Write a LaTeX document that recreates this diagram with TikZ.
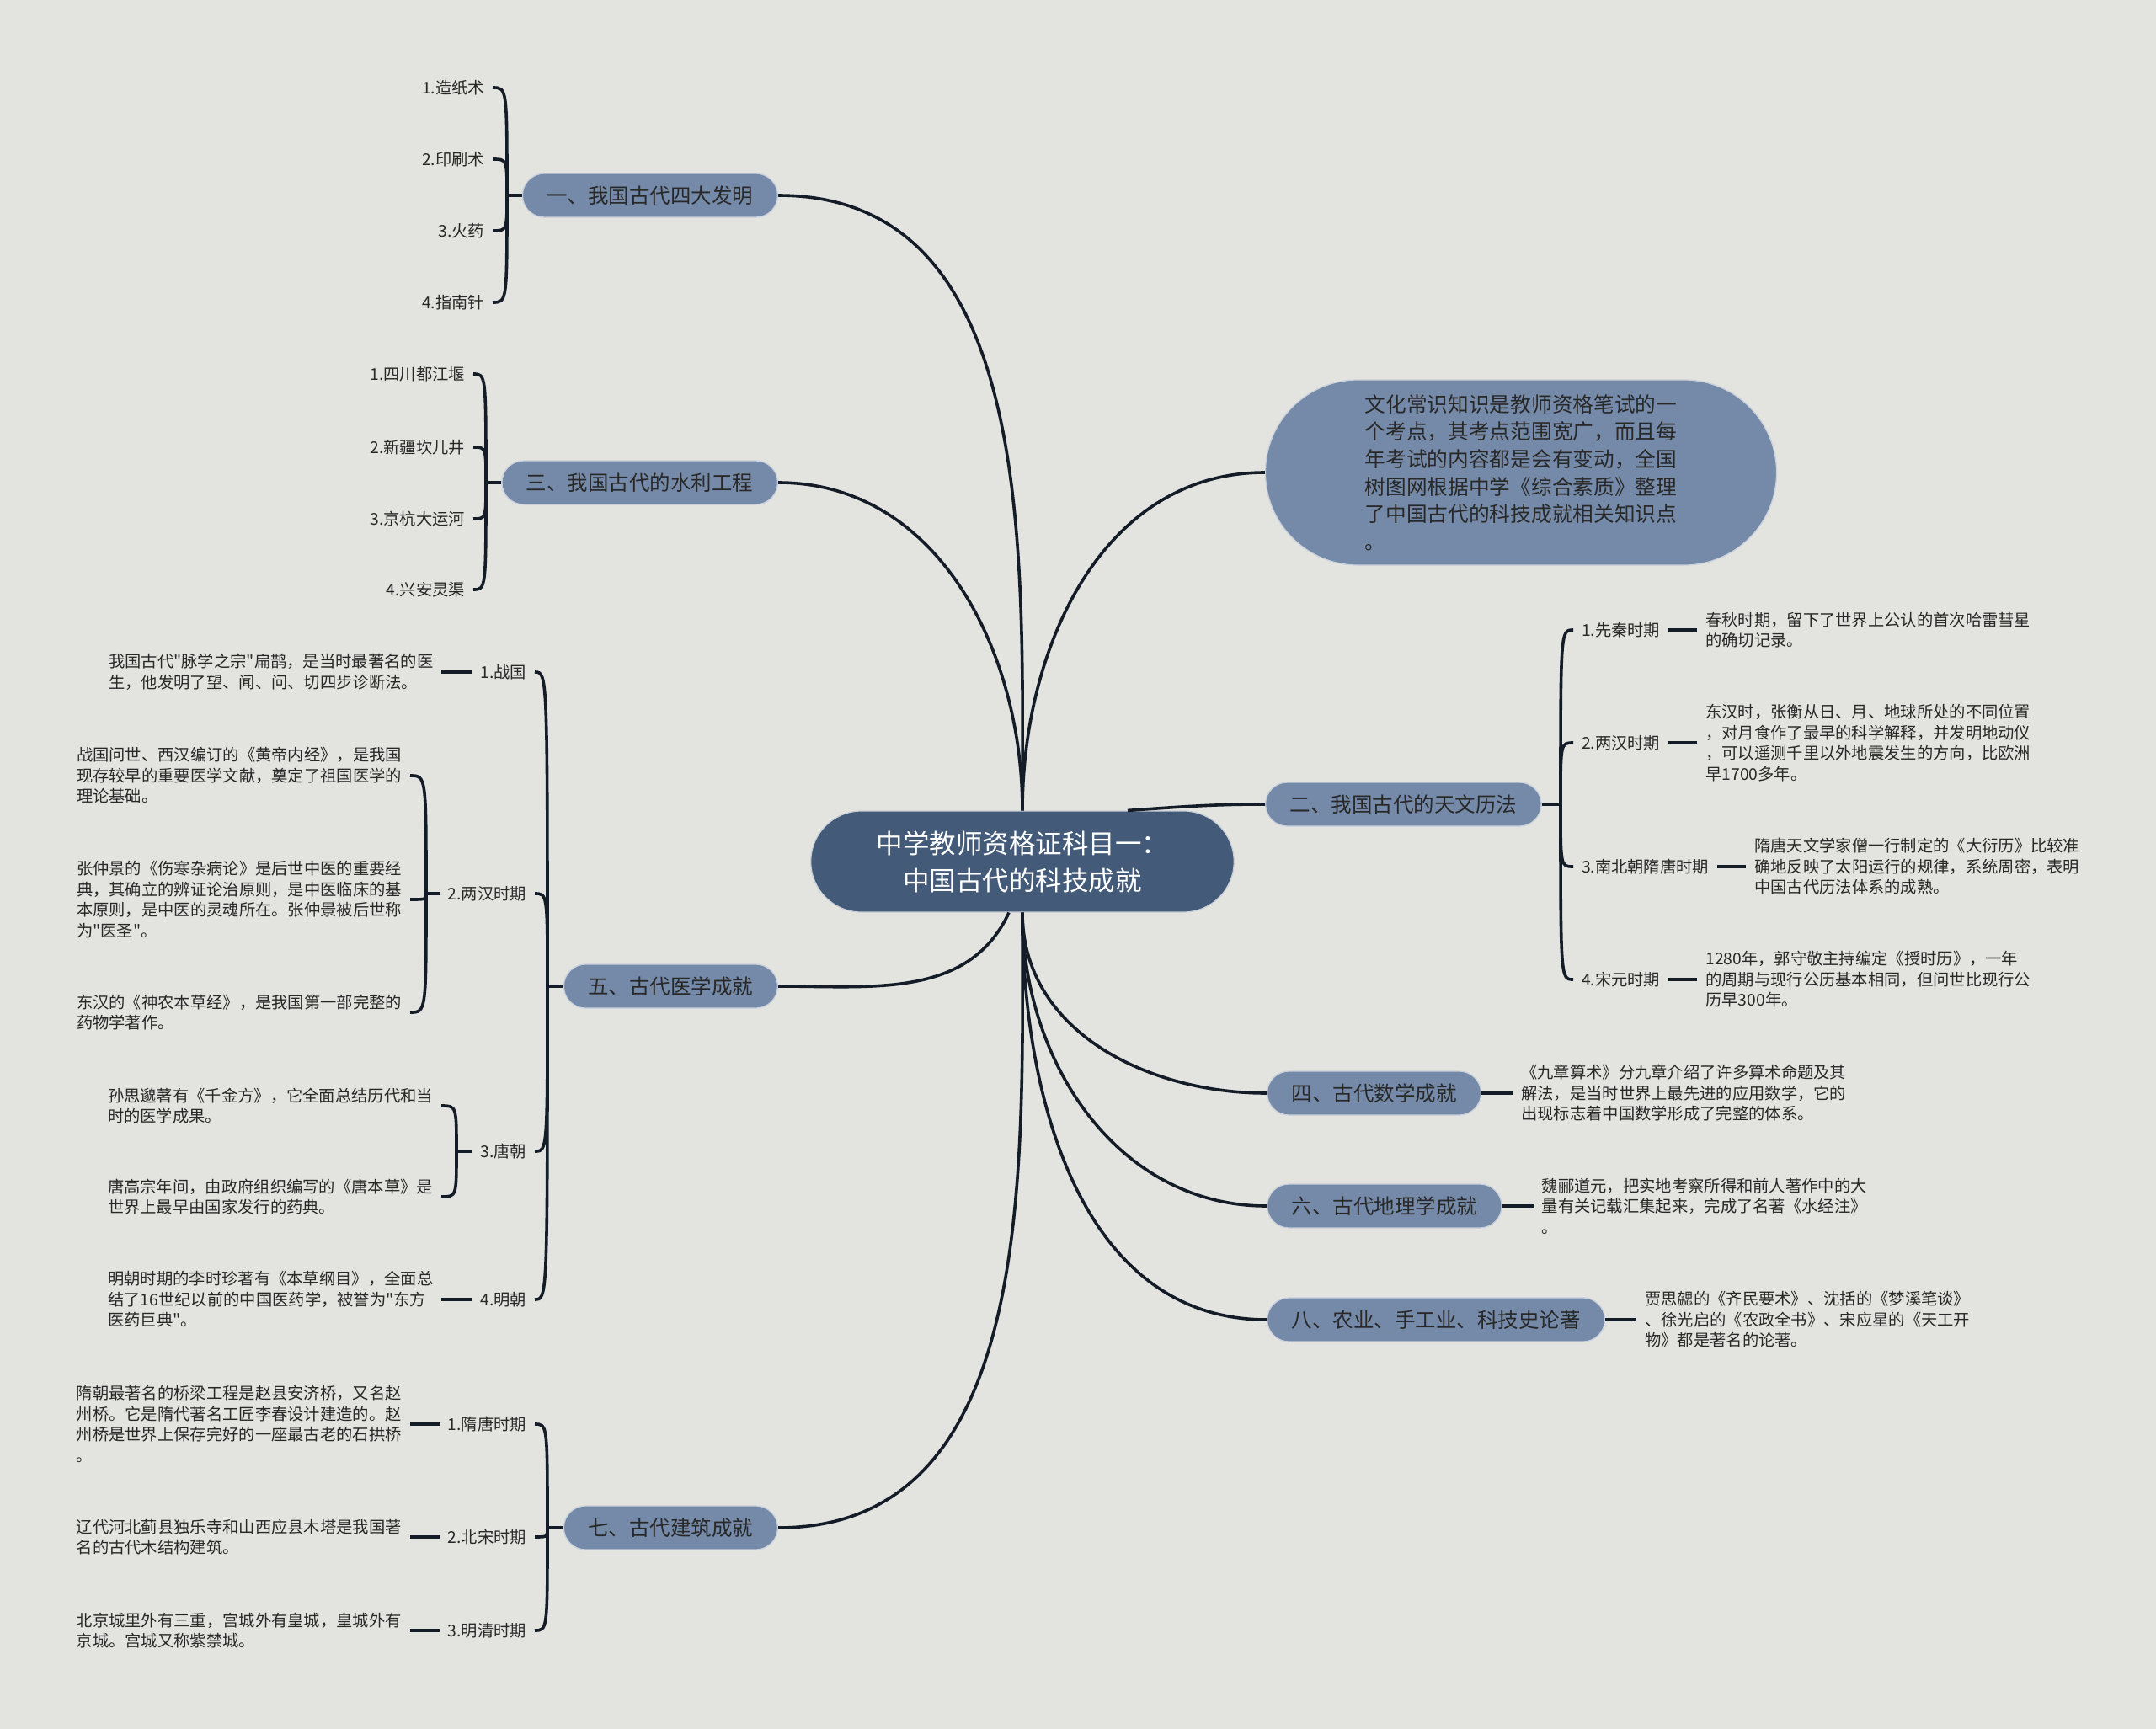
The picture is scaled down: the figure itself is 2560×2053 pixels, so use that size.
\documentclass[tikz,border=0pt]{standalone}
\usepackage{fontspec}
\setmainfont{Noto Sans CJK SC}[Ligatures=TeXOff]
\usepackage{tikz}
\usetikzlibrary{positioning}
\definecolor{bgcolor}{RGB}{227,227,223}
\definecolor{rootcolor}{RGB}{67,91,120}
\definecolor{topiccolor}{RGB}{117,138,168}
\definecolor{linecolor}{RGB}{20,28,40}
\definecolor{txtcolor}{RGB}{40,40,40}

\begin{document}
\begin{tikzpicture}[
  x=1pt, y=1pt,
  root/.style={fill=rootcolor, draw=white!70!rootcolor, line width=1.2pt, rounded corners=60pt, minimum height=120pt, inner xsep=78pt, text=white, align=center, font=\fontsize{31.5}{44}\selectfont},
  topic/.style={fill=topiccolor, draw=white!60!topiccolor, line width=1.2pt, rounded corners=26pt, minimum height=52pt, inner xsep=29pt, text=txtcolor, font=\fontsize{24.5}{30}\selectfont},
  intro/.style={fill=topiccolor, draw=white!60!topiccolor, line width=1.2pt, rounded corners=110pt, minimum width=607pt, minimum height=220pt, align=left, text=txtcolor, font=\fontsize{24.7}{32.6}\selectfont},
  subtopic/.style={inner sep=0pt, outer xsep=10pt, text=txtcolor, font=\fontsize{19.3}{24.5}\selectfont},
  detail/.style={subtopic, align=left},
  link/.style={draw=linecolor, line width=3.6pt},
]
\useasboundingbox (0,0) rectangle (2560,-2053);
\fill[bgcolor] (0,0) rectangle (2560,-2053);

% Root
\node[root] (root) at (1214,-1023) {中学教师资格证科目一：\\中国古代的科技成就};

% Four inventions
\node[topic, anchor=east] (inv) at (924,-232) {一、我国古代四大发明};
\node[subtopic, anchor=east] (inv_1) at (585,-104) {1.造纸术};
\node[subtopic, anchor=east] (inv_2) at (585,-189) {2.印刷术};
\node[subtopic, anchor=east] (inv_3) at (585,-274) {3.火药};
\node[subtopic, anchor=east] (inv_4) at (585,-359) {4.指南针};
\coordinate (inv_br) at (602,-232);
\draw[link] (inv.west) -- (inv_br);
\draw[link] (inv_br) .. controls (inv_br |- inv_1.east) .. (inv_1.east);
\draw[link] (inv_br) .. controls (inv_br |- inv_2.east) .. (inv_2.east);
\draw[link] (inv_br) .. controls (inv_br |- inv_3.east) .. (inv_3.east);
\draw[link] (inv_br) .. controls (inv_br |- inv_4.east) .. (inv_4.east);

% Water works
\node[topic, anchor=east] (wat) at (924,-573) {三、我国古代的水利工程};
\node[subtopic, anchor=east] (wat_1) at (562,-444) {1.四川都江堰};
\node[subtopic, anchor=east] (wat_2) at (562,-531) {2.新疆坎儿井};
\node[subtopic, anchor=east] (wat_3) at (562,-616) {3.京杭大运河};
\node[subtopic, anchor=east] (wat_4) at (562,-700) {4.兴安灵渠};
\coordinate (wat_br) at (577,-573);
\draw[link] (wat.west) -- (wat_br);
\draw[link] (wat_br) .. controls (wat_br |- wat_1.east) .. (wat_1.east);
\draw[link] (wat_br) .. controls (wat_br |- wat_2.east) .. (wat_2.east);
\draw[link] (wat_br) .. controls (wat_br |- wat_3.east) .. (wat_3.east);
\draw[link] (wat_br) .. controls (wat_br |- wat_4.east) .. (wat_4.east);

% Medicine
\node[topic, anchor=east] (med) at (924,-1171) {五、古代医学成就};
\node[subtopic, anchor=east] (med_1) at (635,-798) {1.战国};
\node[subtopic, anchor=east] (med_2) at (635,-1061) {2.两汉时期};
\node[subtopic, anchor=east] (med_3) at (635,-1367) {3.唐朝};
\node[subtopic, anchor=east] (med_4) at (635,-1543) {4.明朝};
\coordinate (med_br) at (650,-1171);
\draw[link] (med.west) -- (med_br);
\draw[link] (med_br) .. controls (med_br |- med_1.east) .. (med_1.east);
\draw[link] (med_br) .. controls (med_br |- med_2.east) .. (med_2.east);
\draw[link] (med_br) .. controls (med_br |- med_3.east) .. (med_3.east);
\draw[link] (med_br) .. controls (med_br |- med_4.east) .. (med_4.east);

\node[detail, left=36pt of med_1] (med_1a) {我国古代"脉学之宗"扁鹊，是当时最著名的医\\生，他发明了望、闻、问、切四步诊断法。};
\draw[link] (med_1.west) -- (med_1a.east);

\node[detail, anchor=east] (med_2a) at (487,-921) {战国问世、西汉编订的《黄帝内经》，是我国\\现存较早的重要医学文献，奠定了祖国医学的\\理论基础。};
\node[detail, anchor=east] (med_2b) at (487,-1068) {张仲景的《伤寒杂病论》是后世中医的重要经\\典，其确立的辨证论治原则，是中医临床的基\\本原则，是中医的灵魂所在。张仲景被后世称\\为"医圣"。};
\node[detail, anchor=east] (med_2c) at (487,-1202) {东汉的《神农本草经》，是我国第一部完整的\\药物学著作。};
\coordinate (med2_br) at (506,-1061);
\draw[link] (med_2.west) -- (med2_br);
\draw[link] (med2_br) .. controls (med2_br |- med_2a.east) .. (med_2a.east);
\draw[link] (med2_br) .. controls (med2_br |- med_2b.east) .. (med_2b.east);
\draw[link] (med2_br) .. controls (med2_br |- med_2c.east) .. (med_2c.east);

\node[detail, anchor=east] (med_3a) at (524,-1313) {孙思邈著有《千金方》，它全面总结历代和当\\时的医学成果。};
\node[detail, anchor=east] (med_3b) at (524,-1421) {唐高宗年间，由政府组织编写的《唐本草》是\\世界上最早由国家发行的药典。};
\coordinate (med3_br) at (542,-1367);
\draw[link] (med_3.west) -- (med3_br);
\draw[link] (med3_br) .. controls (med3_br |- med_3a.east) .. (med_3a.east);
\draw[link] (med3_br) .. controls (med3_br |- med_3b.east) .. (med_3b.east);

\node[detail, left=36pt of med_4] (med_4a) {明朝时期的李时珍著有《本草纲目》，全面总\\结了16世纪以前的中国医药学，被誉为"东方\\医药巨典"。};
\draw[link] (med_4.west) -- (med_4a.east);

% Architecture
\node[topic, anchor=east] (arch) at (924,-1814) {七、古代建筑成就};
\node[subtopic, anchor=east] (arch_1) at (635,-1691) {1.隋唐时期};
\node[subtopic, anchor=east] (arch_2) at (635,-1825) {2.北宋时期};
\node[subtopic, anchor=east] (arch_3) at (635,-1936) {3.明清时期};
\coordinate (arch_br) at (650,-1814);
\draw[link] (arch.west) -- (arch_br);
\draw[link] (arch_br) .. controls (arch_br |- arch_1.east) .. (arch_1.east);
\draw[link] (arch_br) .. controls (arch_br |- arch_2.east) .. (arch_2.east);
\draw[link] (arch_br) .. controls (arch_br |- arch_3.east) .. (arch_3.east);

\node[detail, left=35pt of arch_1] (arch_1a) {隋朝最著名的桥梁工程是赵县安济桥，又名赵\\州桥。它是隋代著名工匠李春设计建造的。赵\\州桥是世界上保存完好的一座最古老的石拱桥\\。};
\node[detail, left=35pt of arch_2] (arch_2a) {辽代河北蓟县独乐寺和山西应县木塔是我国著\\名的古代木结构建筑。};
\node[detail, left=35pt of arch_3] (arch_3a) {北京城里外有三重，宫城外有皇城，皇城外有\\京城。宫城又称紫禁城。};
\draw[link] (arch_1.west) -- (arch_1a.east);
\draw[link] (arch_2.west) -- (arch_2a.east);
\draw[link] (arch_3.west) -- (arch_3a.east);

% Intro bubble
\node[intro] (intro) at (1806,-561) {文化常识知识是教师资格笔试的一\\个考点，其考点范围宽广，而且每\\年考试的内容都是会有变动，全国\\树图网根据中学《综合素质》整理\\了中国古代的科技成就相关知识点\\。};

% Astronomy
\node[topic, anchor=west] (ast) at (1502,-955) {二、我国古代的天文历法};
\node[subtopic, anchor=west] (ast_1) at (1868,-748) {1.先秦时期};
\node[subtopic, anchor=west] (ast_2) at (1868,-882) {2.两汉时期};
\node[subtopic, anchor=west] (ast_3) at (1868,-1029) {3.南北朝隋唐时期};
\node[subtopic, anchor=west] (ast_4) at (1868,-1163) {4.宋元时期};
\coordinate (ast_br) at (1853,-955);
\draw[link] (ast.east) -- (ast_br);
\draw[link] (ast_br) .. controls (ast_br |- ast_1.west) .. (ast_1.west);
\draw[link] (ast_br) .. controls (ast_br |- ast_2.west) .. (ast_2.west);
\draw[link] (ast_br) .. controls (ast_br |- ast_3.west) .. (ast_3.west);
\draw[link] (ast_br) .. controls (ast_br |- ast_4.west) .. (ast_4.west);

\node[detail, right=34pt of ast_1] (ast_1a) {春秋时期，留下了世界上公认的首次哈雷彗星\\的确切记录。};
\node[detail, right=34pt of ast_2] (ast_2a) {东汉时，张衡从日、月、地球所处的不同位置\\，对月食作了最早的科学解释，并发明地动仪\\，可以遥测千里以外地震发生的方向，比欧洲\\早1700多年。};
\node[detail, right=34pt of ast_3] (ast_3a) {隋唐天文学家僧一行制定的《大衍历》比较准\\确地反映了太阳运行的规律，系统周密，表明\\中国古代历法体系的成熟。};
\node[detail, right=34pt of ast_4] (ast_4a) {1280年，郭守敬主持编定《授时历》，一年\\的周期与现行公历基本相同，但问世比现行公\\历早300年。};
\draw[link] (ast_1.east) -- (ast_1a.west);
\draw[link] (ast_2.east) -- (ast_2a.west);
\draw[link] (ast_3.east) -- (ast_3a.west);
\draw[link] (ast_4.east) -- (ast_4a.west);

% Maths, geography, treatises
\node[topic, anchor=west] (math) at (1504,-1298) {四、古代数学成就};
\node[detail, right=37pt of math] (math_a) {《九章算术》分九章介绍了许多算术命题及其\\解法，是当时世界上最先进的应用数学，它的\\出现标志着中国数学形成了完整的体系。};
\draw[link] (math.east) -- (math_a.west);

\node[topic, anchor=west] (geo) at (1504,-1432) {六、古代地理学成就};
\node[detail, right=37pt of geo] (geo_a) {魏郦道元，把实地考察所得和前人著作中的大\\量有关记载汇集起来，完成了名著《水经注》\\。};
\draw[link] (geo.east) -- (geo_a.west);

\node[topic, anchor=west] (agri) at (1504,-1567) {八、农业、手工业、科技史论著};
\node[detail, right=37pt of agri] (agri_a) {贾思勰的《齐民要术》、沈括的《梦溪笔谈》\\、徐光启的《农政全书》、宋应星的《天工开\\物》都是著名的论著。};
\draw[link] (agri.east) -- (agri_a.west);

% Main branches
\draw[link] (root.north) to[out=90,in=0] (inv.east);
\draw[link] (root.north) to[out=90,in=0] (wat.east);
\draw[link] (root.north) to[out=90,in=180] (intro.west);
\draw[link] ([xshift=125pt]root.north) to[out=4,in=180] (ast.west);
\draw[link] ([xshift=-16pt]root.south) to[out=-115,in=0] (med.east);
\draw[link] (root.south) to[out=-90,in=0] (arch.east);
\draw[link] (root.south) to[out=-90,in=180] (math.west);
\draw[link] (root.south) to[out=-90,in=180] (geo.west);
\draw[link] (root.south) to[out=-90,in=180] (agri.west);

\end{tikzpicture}
\end{document}
